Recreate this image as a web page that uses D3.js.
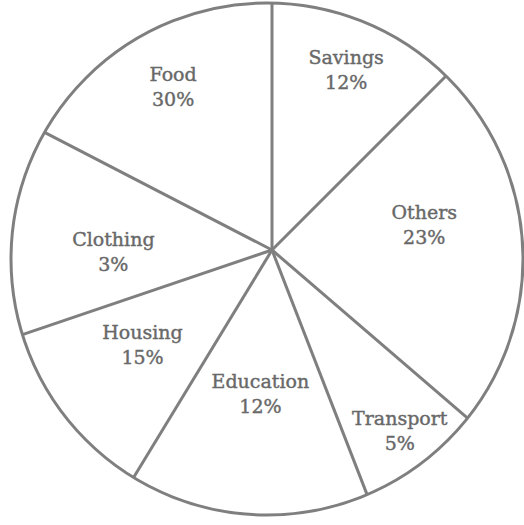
<!DOCTYPE html>
<html>
<head>
<meta charset="utf-8">
<script src="https://cdn.jsdelivr.net/npm/d3@7"></script>
<style>
    body { margin: 0; background: #fff; }
    svg { display: block; }
    .rim, .spoke { fill: none; stroke: #7f7f7f; stroke-width: 3; }
    .label { font-family: 'DejaVu Serif', serif; font-size: 19px; fill: #686868; stroke: #686868; stroke-width: 0.4; text-anchor: middle; }
</style>
</head>
<body>
<div class="container"></div>
<script>
// categories clockwise from the top, as printed on the chart
var categories = ['Savings', 'Others', 'Transport', 'Education', 'Housing', 'Clothing', 'Food'];
var printedPct = [12, 23, 5, 12, 15, 3, 30];
// slice sizes as actually drawn in the picture (percent of the circle)
var drawnShare = [12.5, 23.8, 7.8, 14.6, 11.1, 12.8, 17.4];

var WIDTH = 524, HEIGHT = 525;
var hub = {x: 272, y: 250};          // where the spokes meet
var rim = {x: 267, y: 259, r: 256};  // the outer circle is a little off the hub
// label placement: distance from hub and a small turn off the slice middle (degrees)
var labelRadius = [207, 157, 211, 132, 153, 159, 202];
var labelTurn = [-1.5, -12, -2, 0, 6.5, -0.5, 2];

var translate = (x, y) => `translate(${ x },${ y })`;
var deg = Math.PI / 180;

var svg = d3.select('.container').append('svg')
    .attr('width', WIDTH)
    .attr('height', HEIGHT);

var slices = d3.pie().sort(null).value(d => d)(drawnShare);

// distance along a ray from the hub until it reaches the rim
var rayToRim = a => {
    var ux = Math.sin(a), uy = -Math.cos(a);
    var ox = hub.x - rim.x, oy = hub.y - rim.y;
    var b = ox * ux + oy * uy;
    var c = ox * ox + oy * oy - rim.r * rim.r;
    return -b + Math.sqrt(b * b - c);
}

svg.append('circle')
    .classed('rim', true)
    .attr('cx', rim.x)
    .attr('cy', rim.y)
    .attr('r', rim.r);

var g = svg.append('g').attr('transform', translate(hub.x, hub.y));

g.selectAll('.spoke')
    .data(slices)
    .enter().append('line')
    .classed('spoke', true)
    .attr('x1', 0)
    .attr('y1', 0)
    .attr('x2', d => Math.sin(d.startAngle) * rayToRim(d.startAngle))
    .attr('y2', d => -Math.cos(d.startAngle) * rayToRim(d.startAngle));

var labels = g.selectAll('.label')
    .data(slices)
    .enter().append('text')
    .classed('label', true)
    .attr('transform', (d, i) => {
        var r = labelRadius[i];
        var arc = d3.arc().innerRadius(r).outerRadius(r);
        var mid = (d.startAngle + d.endAngle) / 2 + labelTurn[i] * deg;
        var [x, y] = arc.centroid({startAngle: mid, endAngle: mid});
        return translate(x, y);
    });

labels.append('tspan')
    .attr('x', 0)
    .attr('y', 7)
    .text((d, i) => categories[i]);

labels.append('tspan')
    .attr('x', 0)
    .attr('y', 32)
    .text((d, i) => printedPct[i] + '%');
</script>
</body>
</html>
